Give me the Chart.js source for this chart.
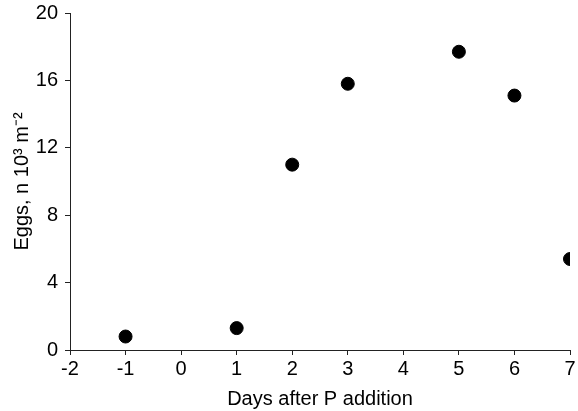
<!DOCTYPE html>
<html>
<head>
<meta charset="utf-8">
<script src="https://cdn.jsdelivr.net/npm/chart.js@4"></script>
<style>
  html, body { margin: 0; padding: 0; background: #fff; }
  #wrap { width: 578px; height: 411px; }
</style>
</head>
<body>
<div id="wrap"><canvas id="eggs"></canvas></div>
<script>
// Days relative to P addition, and egg density (n 10^3 m^-2)
const days = [-1, 1, 2, 3, 5, 6, 7];
const eggs = [0.8, 1.3, 11.0, 15.8, 17.7, 15.1, 5.4];

const FONT = "'Liberation Sans', Arial, Helvetica, sans-serif";

const axisCommon = {
  border: { display: true, color: '#222', width: 1 },
  grid: {
    drawOnChartArea: false,
    drawTicks: true,
    tickLength: 5,
    color: '#222',
  },
  ticks: { color: '#000', font: { family: FONT, size: 20 }, padding: 2 },
};

new Chart(document.getElementById('eggs').getContext('2d'), {
  type: 'scatter',
  data: {
    datasets: [{
      label: 'Eggs',
      data: days.map((d, i) => ({ x: d, y: eggs[i] })),
      backgroundColor: '#000',
      borderColor: '#000',
      pointRadius: 6.5,
      pointHoverRadius: 6.5,
    }],
  },
  options: {
    responsive: true,
    maintainAspectRatio: false,
    animation: false,
    layout: { padding: { top: 13, right: 8, left: 0, bottom: 0 } },
    plugins: { legend: { display: false }, tooltip: { enabled: false } },
    scales: {
      x: {
        ...axisCommon,
        type: 'linear',
        min: -2,
        max: 7,
        ticks: { ...axisCommon.ticks, stepSize: 1 },
        title: {
          display: true,
          text: 'Days after P addition',
          color: '#000',
          font: { family: FONT, size: 20 },
          padding: { top: 4, bottom: 0 },
        },
        afterFit: (s) => { s.height = 61; },
      },
      y: {
        ...axisCommon,
        min: 0,
        max: 20,
        ticks: { ...axisCommon.ticks, stepSize: 4, padding: 7 },
        title: {
          display: true,
          text: 'Eggs, n 10³ m⁻²',
          color: '#000',
          font: { family: FONT, size: 20 },
          padding: { top: 10, bottom: 4 },
        },
        afterFit: (s) => { s.width = 70; s.paddingTop = 0; s.paddingBottom = 0; },
      },
    },
  },
});
</script>
</body>
</html>
